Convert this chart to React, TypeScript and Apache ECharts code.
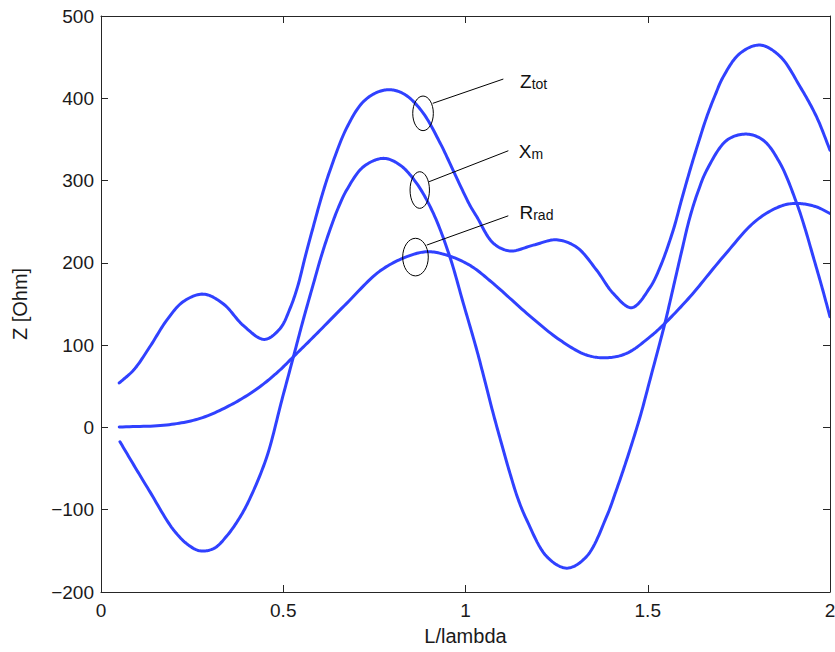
import React, { useEffect, useRef } from "react";
import * as echarts from "echarts";

// ---- data ----
const ztotX = [0.05, 0.09, 0.134, 0.18, 0.226, 0.281, 0.336, 0.39, 0.448, 0.491, 0.519, 0.54, 0.56, 0.583, 0.605, 0.628, 0.674, 0.72, 0.765, 0.802, 0.839, 0.884, 0.93, 0.953, 0.976, 1.012, 1.031, 1.076, 1.122, 1.186, 1.25, 1.305, 1.36, 1.405, 1.456, 1.506, 1.535, 1.57, 1.593, 1.616, 1.64, 1.662, 1.685, 1.707, 1.753, 1.808, 1.863, 1.918, 1.963, 2.0];
const ztotY = [54, 70, 98, 130, 153, 162, 150, 124, 107, 120, 145, 172, 207, 245, 280, 312, 364, 396, 408.5, 410, 403, 382, 346, 325, 303, 270, 256, 224, 214.5, 221.5, 228, 219, 191, 163, 145.5, 170, 196, 240, 277, 312.8, 347.6, 377.6, 404, 426, 454.6, 464.7, 451, 414, 377.6, 337];

const xmX = [0.052, 0.093, 0.134, 0.198, 0.24, 0.272, 0.31, 0.345, 0.38, 0.409, 0.455, 0.496, 0.528, 0.555, 0.583, 0.605, 0.628, 0.651, 0.674, 0.72, 0.775, 0.82, 0.866, 0.912, 0.957, 0.994, 1.031, 1.054, 1.076, 1.099, 1.122, 1.145, 1.168, 1.223, 1.278, 1.332, 1.387, 1.414, 1.442, 1.479, 1.506, 1.547, 1.57, 1.593, 1.616, 1.639, 1.662, 1.717, 1.771, 1.817, 1.863, 1.909, 1.932, 1.954, 1.977, 2.0];
const xmY = [-17.4, -48, -78, -124, -143, -150, -147, -132, -110, -86, -35.6, 33, 86, 131, 175, 209, 240, 267, 288.5, 316.8, 327, 319, 296.6, 260, 207.4, 150.8, 94, 55, 17, -20, -55.8, -88, -112.5, -157, -171, -157, -108.5, -76, -39.6, 13, 57.6, 126.5, 170, 214, 256, 288, 312.8, 349, 356.5, 349, 321, 272, 241, 207.4, 172, 134.5];

const rradX = [0.05, 0.18, 0.272, 0.363, 0.436, 0.491, 0.528, 0.583, 0.674, 0.765, 0.839, 0.894, 0.948, 1.012, 1.076, 1.168, 1.259, 1.332, 1.387, 1.442, 1.506, 1.547, 1.616, 1.707, 1.799, 1.872, 1.918, 1.963, 2.0];
const rradY = [0.5, 3, 11, 29, 49.5, 69.8, 86, 110, 150.8, 190, 207.5, 213.5, 209.5, 197, 175, 138.7, 106.2, 88, 84.7, 90, 110, 126.5, 158.8, 207.4, 252, 270, 272, 268, 260];

const xTicks = { min: 0, max: 2, interval: 0.5 };
const yTicks = { min: -200, max: 500, interval: 100 };

// annotation labels: [main letter, subscript], anchored at a point on the curve (data coords)
const annoMain = ["Z", "X", "R"];
const annoSub = ["tot", "m", "rad"];
const annoAnchorX = [0.8835, 0.8745, 0.8628];
const annoAnchorY = [381.7, 288.5, 207];

const FONT = "'Liberation Sans', Arial, Helvetica, sans-serif";
const BLUE = "#3041ff";
const AX = "#262626";

function pairs(xs: number[], ys: number[]) {
  return xs.map((x, i) => [x, ys[i]]);
}

// centripetal Catmull-Rom through pixel points
function spline(pts: number[][], seg = 14): number[][] {
  const n = pts.length;
  if (n < 3) return pts;
  const out: number[][] = [];
  const get = (i: number) => {
    if (i < 0) return [2 * pts[0][0] - pts[1][0], 2 * pts[0][1] - pts[1][1]];
    if (i >= n) return [2 * pts[n - 1][0] - pts[n - 2][0], 2 * pts[n - 1][1] - pts[n - 2][1]];
    return pts[i];
  };
  const dist = (a: number[], b: number[]) => Math.max(1e-4, Math.pow(Math.hypot(b[0] - a[0], b[1] - a[1]), 0.5));
  const lerp = (a: number[], b: number[], ta: number, tb: number, t: number) => {
    const w = (t - ta) / (tb - ta);
    return [a[0] + (b[0] - a[0]) * w, a[1] + (b[1] - a[1]) * w];
  };
  for (let i = 0; i < n - 1; i++) {
    const p0 = get(i - 1), p1 = get(i), p2 = get(i + 1), p3 = get(i + 2);
    const t0 = 0;
    const t1 = t0 + dist(p0, p1);
    const t2 = t1 + dist(p1, p2);
    const t3 = t2 + dist(p2, p3);
    for (let k = 0; k < seg; k++) {
      const t = t1 + ((t2 - t1) * k) / seg;
      const a1 = lerp(p0, p1, t0, t1, t);
      const a2 = lerp(p1, p2, t1, t2, t);
      const a3 = lerp(p2, p3, t2, t3, t);
      const b1 = lerp(a1, a2, t0, t2, t);
      const b2 = lerp(a2, a3, t1, t3, t);
      out.push(lerp(b1, b2, t1, t2, t));
    }
  }
  out.push(pts[n - 1]);
  return out;
}

export default function App() {
  const ref = useRef<HTMLDivElement>(null);
  useEffect(() => {
    if (!ref.current) return;
    const chart = echarts.init(ref.current, undefined, { renderer: "svg" });
    const curveSeries = (name: string, xs: number[], ys: number[]) => ({
      name,
      type: "custom",
      coordinateSystem: "cartesian2d",
      xAxisIndex: 0,
      yAxisIndex: 0,
      data: pairs(xs, ys),
      encode: { x: 0, y: 1 },
      clip: true,
      z: 3,
      renderItem: (params: any, api: any) => {
        if (params.dataIndex !== 0) return null;
        const px = xs.map((x, i) => api.coord([x, ys[i]]));
        return {
          type: "polyline",
          shape: { points: spline(px) },
          style: { stroke: BLUE, lineWidth: 3, fill: "none", lineJoin: "round", lineCap: "round" },
        };
      },
    });
    const axisCommon = {
      axisLine: { show: true, onZero: false, lineStyle: { color: AX, width: 1 } },
      axisTick: { show: true, inside: true, length: 7, lineStyle: { color: AX, width: 1 } },
      splitLine: { show: false },
    };
    chart.setOption({
      animation: false,
      backgroundColor: "#ffffff",
      grid: { left: 101, right: 5, top: 16, bottom: 60, containLabel: false, outerBoundsMode: "none" },
      xAxis: [
        {
          type: "value",
          ...xTicks,
          position: "bottom",
          ...axisCommon,
          axisLabel: { show: true, color: "#1a1a1a", fontSize: 19, fontFamily: FONT, margin: 9 },
          name: "L/lambda",
          nameLocation: "middle",
          nameGap: 34,
          nameTextStyle: { color: "#1a1a1a", fontSize: 20, fontFamily: FONT },
        },
        {
          type: "value",
          ...xTicks,
          position: "top",
          ...axisCommon,
          axisLabel: { show: false },
        },
      ],
      yAxis: [
        {
          type: "value",
          ...yTicks,
          position: "left",
          ...axisCommon,
          axisLabel: {
            show: true,
            color: "#1a1a1a",
            fontSize: 19,
            fontFamily: FONT,
            margin: 7,
            formatter: (v: number) => String(v).replace("-", "\u2212"),
          },
          name: "Z [Ohm]",
          nameLocation: "middle",
          nameGap: 71,
          nameRotate: 90,
          nameTextStyle: { color: "#1a1a1a", fontSize: 20, fontFamily: FONT },
        },
        {
          type: "value",
          ...yTicks,
          position: "right",
          ...axisCommon,
          axisLabel: { show: false },
        },
      ],
      series: [
        curveSeries("Ztot", ztotX, ztotY),
        curveSeries("Xm", xmX, xmY),
        curveSeries("Rrad", rradX, rradY),
      ],
    });

    // annotation geometry (pixel offsets relative to the anchor)
    const ellR = [[10.3, 17.3], [9.7, 18.3], [12.8, 18.8]];
    const lineFrom = [[9.7, -10], [9.3, -8.3], [11.2, -12]];
    const lineTo = [[80.3, -34.3], [88.6, -39.3], [92.8, -41.3]];
    const labelOff = [[97, -33], [99, -40], [104, -46]];
    const graphics: any[] = [];
    annoMain.forEach((m, i) => {
      const p = chart.convertToPixel({ gridIndex: 0 }, [annoAnchorX[i], annoAnchorY[i]]) as number[];
      const cx = p[0];
      const cy = p[1];
      graphics.push({
        type: "ellipse",
        shape: { cx, cy, rx: ellR[i][0], ry: ellR[i][1] },
        style: { fill: "none", stroke: "#000", lineWidth: 1 },
        z: 10,
      });
      graphics.push({
        type: "line",
        shape: { x1: cx + lineFrom[i][0], y1: cy + lineFrom[i][1], x2: cx + lineTo[i][0], y2: cy + lineTo[i][1] },
        style: { stroke: "#000", lineWidth: 1 },
        z: 10,
      });
      graphics.push({
        type: "text",
        x: cx + labelOff[i][0],
        y: cy + labelOff[i][1],
        style: {
          text: `{a|${m}}{b|${annoSub[i]}}`,
          verticalAlign: "middle",
          align: "left",
          rich: {
            a: { fontSize: 19, fontFamily: FONT, fill: "#111", lineHeight: 22, verticalAlign: "bottom" },
            b: { fontSize: 14, fontFamily: FONT, fill: "#111", lineHeight: 18.5, verticalAlign: "bottom" },
          },
        },
        z: 11,
      });
    });
    chart.setOption({ graphic: graphics });

    return () => chart.dispose();
  }, []);
  return (
    <div
      ref={ref}
      style={{ position: "fixed", left: 0, top: 0, width: 835, height: 652, background: "#fff" }}
    />
  );
}
